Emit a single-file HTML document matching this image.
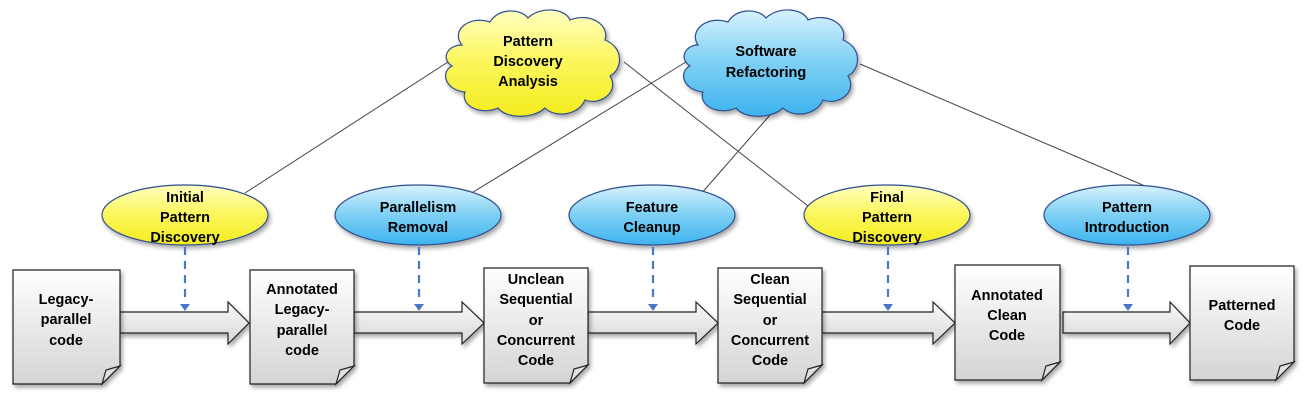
<!DOCTYPE html>
<html><head><meta charset="utf-8"><style>body{margin:0;background:#fff}svg{display:block}text{font-family:"Liberation Sans",sans-serif;font-weight:bold;font-size:14.5px;fill:#000;text-anchor:middle}</style></head><body>
<svg width="1304" height="402" viewBox="0 0 1304 402">
<defs>
<linearGradient id="doc" x1="0" y1="0" x2="0" y2="1"><stop offset="0" stop-color="#fff"/><stop offset="1" stop-color="#d4d4d4"/></linearGradient>
<linearGradient id="arr" x1="0" y1="0" x2="0" y2="1"><stop offset="0" stop-color="#fafafa"/><stop offset="1" stop-color="#d6d6d6"/></linearGradient>
<linearGradient id="yel" x1="0" y1="0" x2="0" y2="1"><stop offset="0" stop-color="#ffffc0"/><stop offset="0.5" stop-color="#fbf65a"/><stop offset="1" stop-color="#f4ec1e"/></linearGradient>
<linearGradient id="blu" x1="0" y1="0" x2="0" y2="1"><stop offset="0" stop-color="#d8f2fd"/><stop offset="0.5" stop-color="#7dcff4"/><stop offset="1" stop-color="#3db3ee"/></linearGradient>
<filter id="sh" x="-10%" y="-10%" width="130%" height="130%"><feDropShadow dx="2" dy="3" stdDeviation="2" flood-color="#000" flood-opacity="0.35"/></filter>
</defs>
<g stroke="#444" stroke-width="1" fill="none">
<line x1="245" y1="193" x2="448" y2="62"/>
<line x1="465" y1="197" x2="686" y2="62"/>
<line x1="624" y1="62" x2="808" y2="206"/>
<line x1="770" y1="115" x2="700" y2="195"/>
<line x1="860" y1="64" x2="1180" y2="201"/>
</g>
<!-- clouds -->
<g stroke="#2f4f8f" stroke-width="1.2" filter="url(#sh)">
<path fill="url(#yel)" d="M462,45 C450,30 470,15 490,22 C498,8 520,8 528,18 C540,6 565,8 570,20 C590,12 610,25 605,40 C625,48 622,70 610,76 C620,92 600,106 585,100 C578,116 555,118 545,108 C532,120 505,118 498,108 C480,116 460,105 465,92 C445,90 440,72 452,66 C440,58 448,45 462,45 Z"/>
<path fill="url(#blu)" d="M698,45 C688,30 708,15 728,22 C736,8 758,8 766,18 C778,6 803,8 808,20 C828,12 848,25 843,40 C863,48 860,70 848,76 C858,92 838,106 823,100 C816,116 793,118 783,108 C770,120 743,118 736,108 C718,116 698,105 703,92 C683,90 678,72 690,66 C678,58 686,45 698,45 Z"/>
</g>
<text x="528" y="46">Pattern</text><text x="528" y="66">Discovery</text><text x="528" y="86">Analysis</text>
<text x="766" y="56">Software</text><text x="766" y="77">Refactoring</text>
<!-- ellipses -->
<g stroke="#2f4f8f" stroke-width="1.2" filter="url(#sh)">
<ellipse cx="185" cy="215" rx="83" ry="30" fill="url(#yel)"/>
<ellipse cx="418" cy="215" rx="83" ry="30" fill="url(#blu)"/>
<ellipse cx="652" cy="215" rx="83" ry="30" fill="url(#blu)"/>
<ellipse cx="887" cy="215" rx="83" ry="30" fill="url(#yel)"/>
<ellipse cx="1127" cy="215" rx="83" ry="30" fill="url(#blu)"/>
</g>
<text x="185" y="202">Initial</text><text x="185" y="222">Pattern</text><text x="185" y="242">Discovery</text>
<text x="418" y="212">Parallelism</text><text x="418" y="232">Removal</text>
<text x="652" y="212">Feature</text><text x="652" y="232">Cleanup</text>
<text x="887" y="202">Final</text><text x="887" y="222">Pattern</text><text x="887" y="242">Discovery</text>
<text x="1127" y="212">Pattern</text><text x="1127" y="232">Introduction</text>
<!-- dashed -->
<g stroke="#4a78c8" stroke-width="2.2" stroke-dasharray="8,6" fill="none">
<line x1="185" y1="247" x2="185" y2="301"/><line x1="419" y1="247" x2="419" y2="301"/><line x1="653" y1="247" x2="653" y2="301"/><line x1="888" y1="247" x2="888" y2="301"/><line x1="1128" y1="247" x2="1128" y2="301"/>
</g>
<g fill="#4a78c8">
<path d="M180,304 h10 l-5,7z"/><path d="M414,304 h10 l-5,7z"/><path d="M648,304 h10 l-5,7z"/><path d="M883,304 h10 l-5,7z"/><path d="M1123,304 h10 l-5,7z"/>
</g>
<!-- arrows -->
<g fill="url(#arr)" stroke="#222" stroke-width="1.2" filter="url(#sh)">
<path d="M120,312 H228 V302 L249,323 L228,344 V333 H120 Z"/>
<path d="M354,312 H462 V302 L484,323 L462,344 V333 H354 Z"/>
<path d="M588,312 H696 V302 L718,323 L696,344 V333 H588 Z"/>
<path d="M822,312 H933 V302 L955,323 L933,344 V333 H822 Z"/>
<path d="M1063,312 H1170 V302 L1190,323 L1170,344 V333 H1063 Z"/>
</g>
<!-- docs -->
<g fill="url(#doc)" stroke="#222" stroke-width="1.2">
<g filter="url(#sh)">
<path d="M13,270 H120 V366 L102,384 H13 Z"/>
<path d="M250,270 H354 V366 L336,384 H250 Z"/>
<path d="M484,268 H588 V365 L570,383 H484 Z"/>
<path d="M718,268 H822 V365 L804,383 H718 Z"/>
<path d="M955,265 H1060 V362 L1042,380 H955 Z"/>
<path d="M1190,266 H1294 V362 L1276,380 H1190 Z"/>
</g>
<path fill="#e0e0e0" d="M120,366 L102,384 L106,370 Z"/>
<path fill="#e0e0e0" d="M354,366 L336,384 L340,370 Z"/>
<path fill="#e0e0e0" d="M588,365 L570,383 L574,369 Z"/>
<path fill="#e0e0e0" d="M822,365 L804,383 L808,369 Z"/>
<path fill="#e0e0e0" d="M1060,362 L1042,380 L1046,366 Z"/>
<path fill="#e0e0e0" d="M1294,362 L1276,380 L1280,366 Z"/>
</g>
<text x="66" y="304">Legacy-</text><text x="66" y="324">parallel</text><text x="66" y="345">code</text>
<text x="302" y="294">Annotated</text><text x="302" y="314">Legacy-</text><text x="302" y="335">parallel</text><text x="302" y="355">code</text>
<text x="536" y="284">Unclean</text><text x="536" y="304">Sequential</text><text x="536" y="325">or</text><text x="536" y="345">Concurrent</text><text x="536" y="365">Code</text>
<text x="770" y="284">Clean</text><text x="770" y="304">Sequential</text><text x="770" y="325">or</text><text x="770" y="345">Concurrent</text><text x="770" y="365">Code</text>
<text x="1007" y="300">Annotated</text><text x="1007" y="320">Clean</text><text x="1007" y="340">Code</text>
<text x="1242" y="310">Patterned</text><text x="1242" y="330">Code</text>
</svg>
</body></html>
